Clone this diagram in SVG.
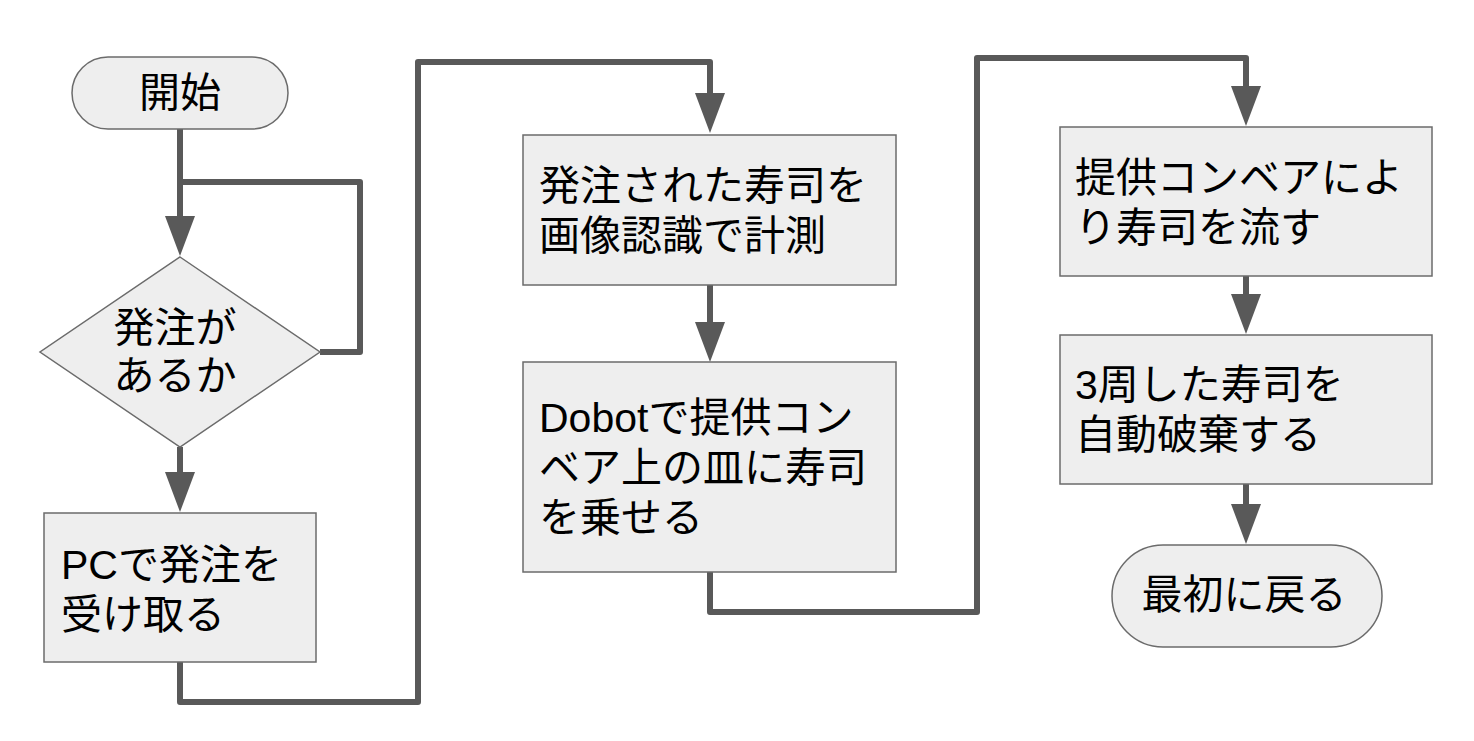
<svg xmlns="http://www.w3.org/2000/svg" width="1474" height="741" viewBox="0 0 1474 741">
<defs>
<marker id="arr" markerUnits="userSpaceOnUse" markerWidth="40" markerHeight="30" refX="1" refY="15" orient="auto">
<path d="M0,0 L40,15 L0,30 z" fill="#595959"/>
</marker>
<style>
.n{fill:#eeeeee;stroke:#6b6b6b;stroke-width:1.5}
.t{font-family:"Liberation Sans","Noto Sans CJK JP",sans-serif;font-size:41px;fill:#000}
.c{fill:none;stroke:#595959;stroke-width:6;stroke-linejoin:round}
</style>
</defs>
<rect width="1474" height="741" fill="#fff"/>
<g id="connectors">
<path class="c" d="M180,129 V217" marker-end="url(#arr)"/>
<path class="c" d="M180,182 H360 V352 H320"/>
<path class="c" d="M180,447 V473" marker-end="url(#arr)"/>
<path class="c" d="M180,662 V702 H418 V62 H710 V94" marker-end="url(#arr)"/>
<path class="c" d="M710,285 V323" marker-end="url(#arr)"/>
<path class="c" d="M710,572 V612 H977 V58 H1246 V87" marker-end="url(#arr)"/>
<path class="c" d="M1246,276 V295" marker-end="url(#arr)"/>
<path class="c" d="M1246,484 V505" marker-end="url(#arr)"/>
</g>
<g id="start">
<rect class="n" x="72" y="57" width="216" height="72" rx="36"/>
<text class="t" x="180" y="107" text-anchor="middle">開始</text>
</g>
<g id="decision">
<polygon class="n" points="180,257 320,352 180,447 40,352"/>
<text class="t" x="175" y="342" text-anchor="middle">発注が</text>
<text class="t" x="175" y="390" text-anchor="middle">あるか</text>
</g>
<g id="receive">
<rect class="n" x="44" y="513" width="272" height="149"/>
<text class="t" x="61" y="579">PCで発注を</text>
<text class="t" x="61" y="629">受け取る</text>
</g>
<g id="measure">
<rect class="n" x="523" y="135" width="373" height="150"/>
<text class="t" x="539" y="200">発注された寿司を</text>
<text class="t" x="539" y="250">画像認識で計測</text>
</g>
<g id="dobot">
<rect class="n" x="523" y="362" width="373" height="210"/>
<text class="t" x="539" y="432">Dobotで提供コン</text>
<text class="t" x="539" y="482">ベア上の皿に寿司</text>
<text class="t" x="539" y="532">を乗せる</text>
</g>
<g id="flow">
<rect class="n" x="1060" y="127" width="372" height="149"/>
<text class="t" x="1075" y="192">提供コンベアによ</text>
<text class="t" x="1075" y="242">り寿司を流す</text>
</g>
<g id="discard">
<rect class="n" x="1060" y="335" width="372" height="149"/>
<text class="t" x="1075" y="399">3周した寿司を</text>
<text class="t" x="1075" y="449">自動破棄する</text>
</g>
<g id="end">
<rect class="n" x="1112" y="545" width="270" height="102" rx="51"/>
<text class="t" x="1244" y="609" text-anchor="middle">最初に戻る</text>
</g>
</svg>
